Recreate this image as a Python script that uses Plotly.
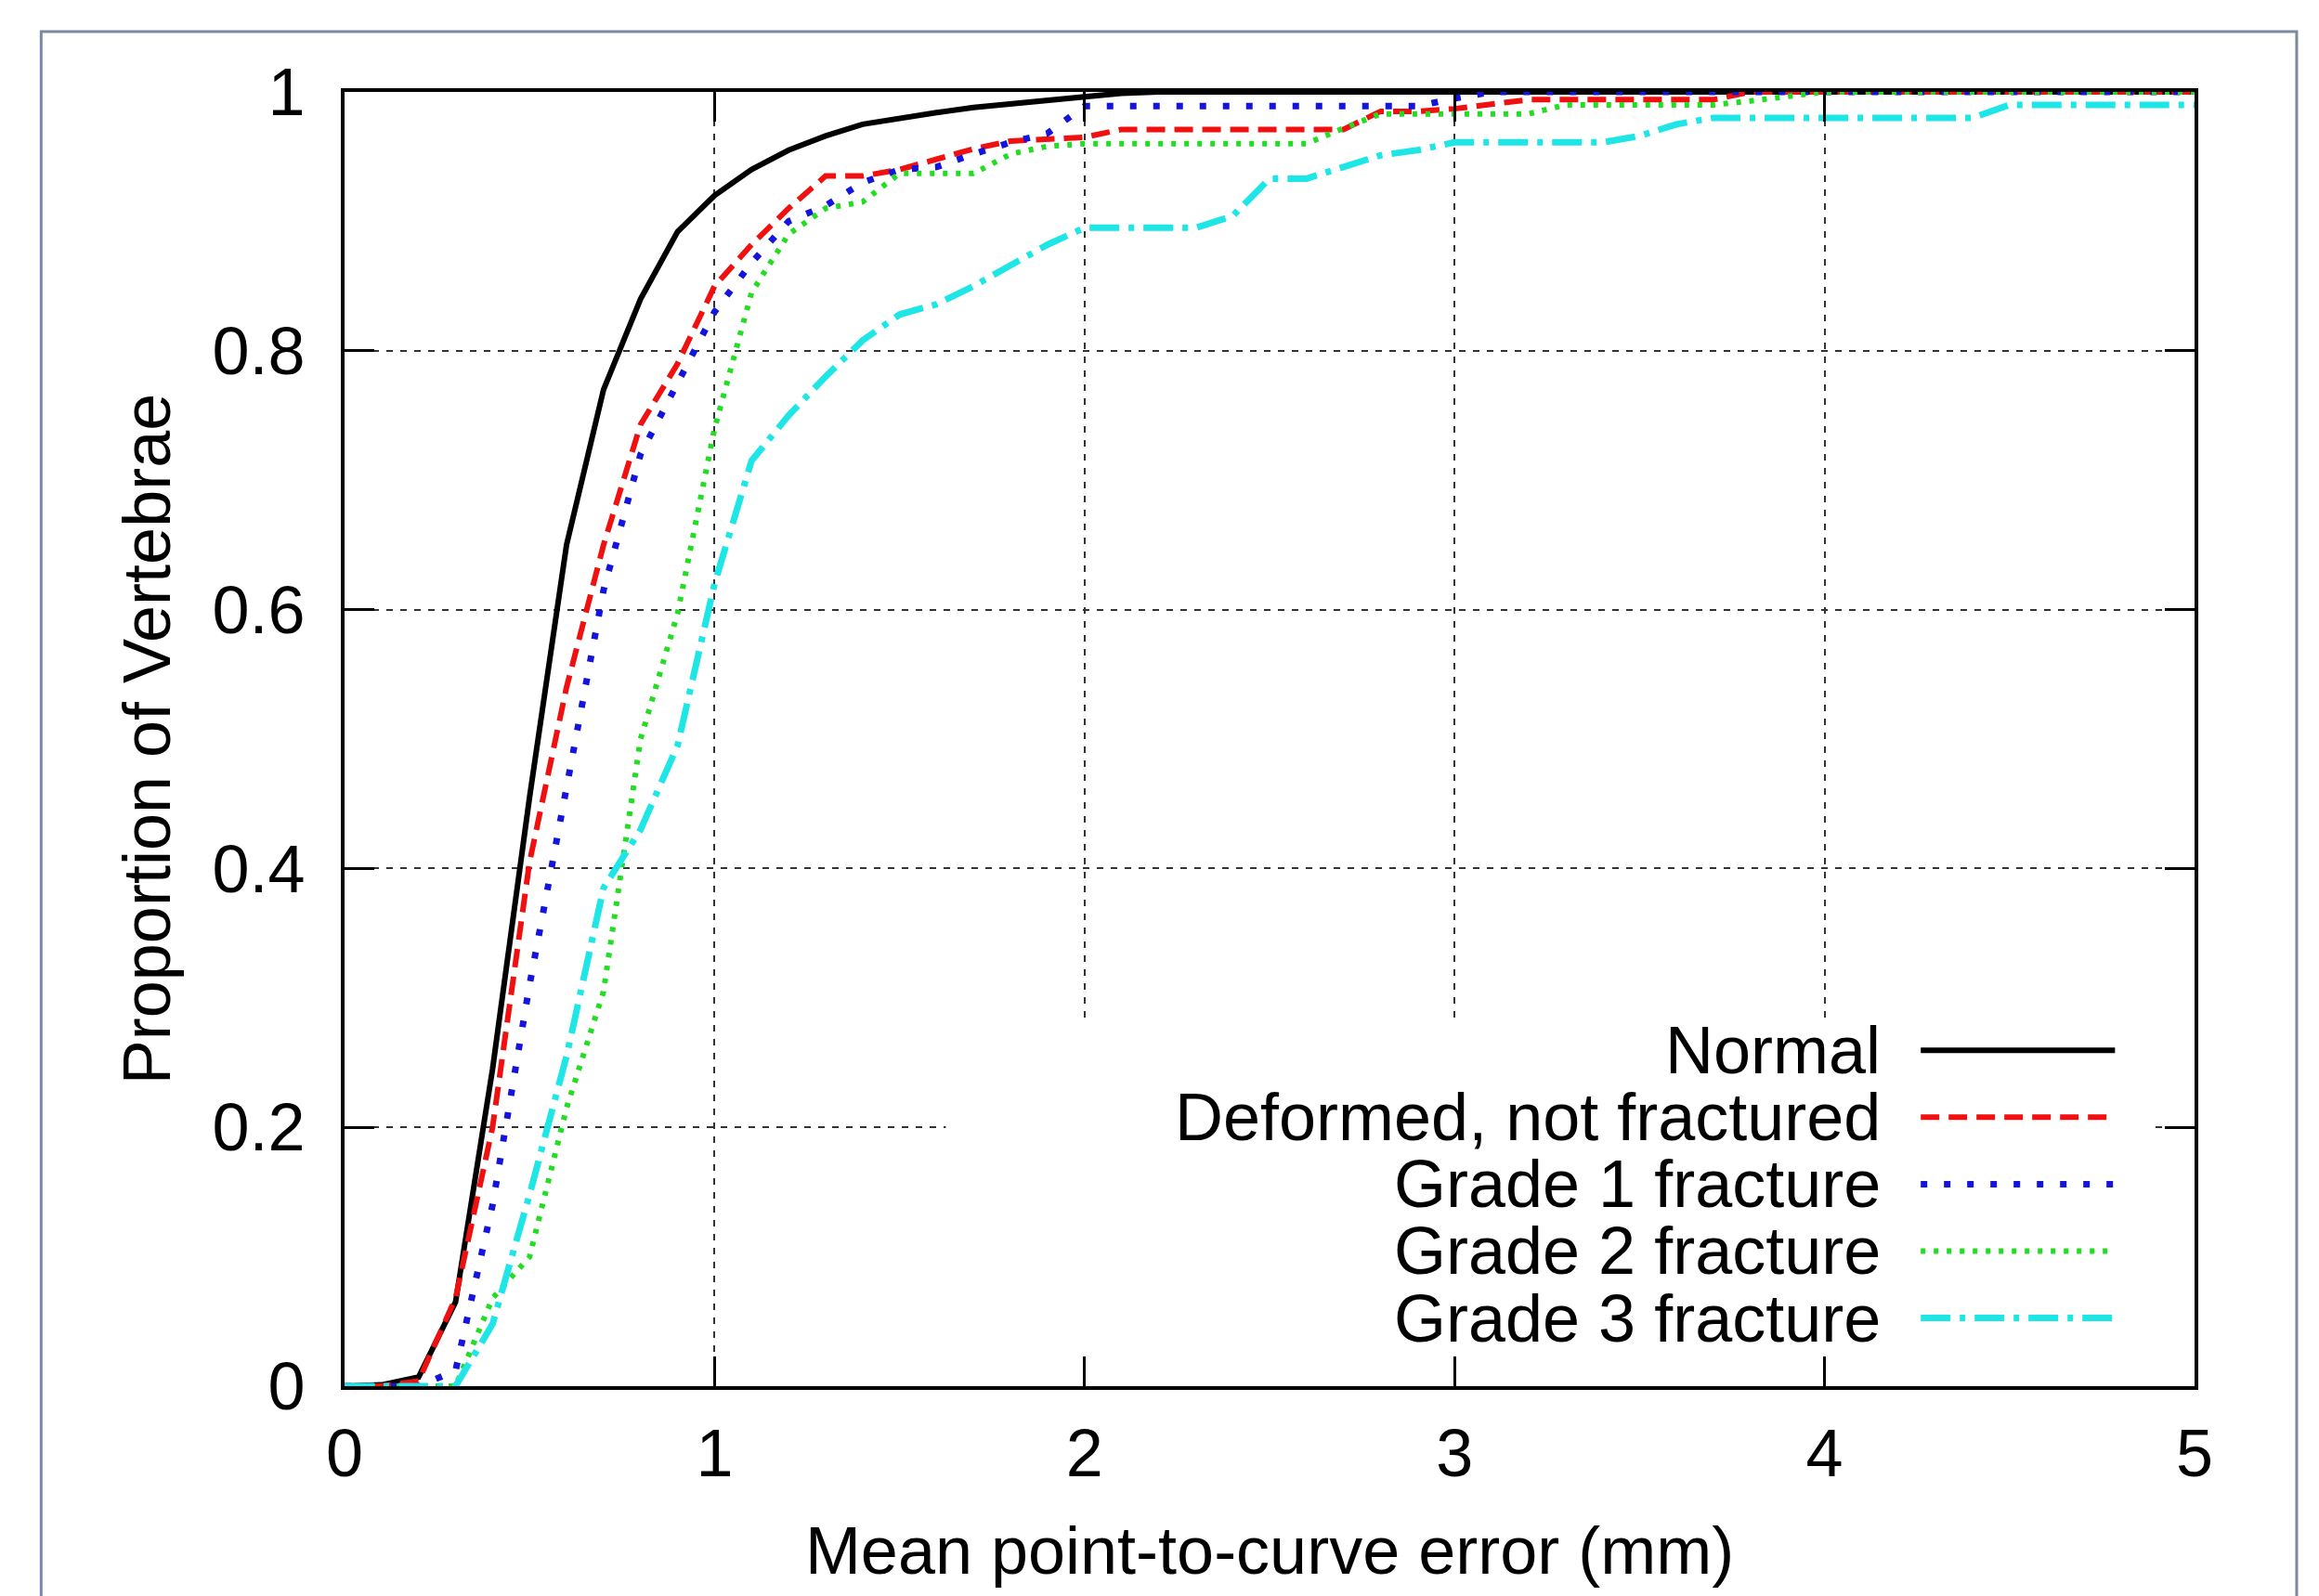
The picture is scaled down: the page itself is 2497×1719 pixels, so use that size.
# Cumulative distribution of mean point-to-curve error per vertebra class
import plotly.graph_objects as go

error_mm = [0.0, 0.1, 0.2, 0.3, 0.4, 0.5, 0.6, 0.7, 0.8, 0.9,
            1.0, 1.1, 1.2, 1.3, 1.4, 1.5, 1.6, 1.7, 1.8, 1.9,
            2.0, 2.1, 2.2, 2.3, 2.4, 2.5, 2.6, 2.7, 2.8, 2.9,
            3.0, 3.1, 3.2, 3.3, 3.4, 3.5, 3.6, 3.7, 3.8, 3.9,
            4.0, 4.1, 4.2, 4.3, 4.4, 4.5, 4.6, 4.7, 4.8, 4.9, 5.0]

normal = [0, 0.001, 0.007, 0.065, 0.245, 0.455, 0.65, 0.77, 0.84, 0.892,
          0.92, 0.94, 0.955, 0.966, 0.975, 0.98, 0.984, 0.988, 0.991, 0.994,
          0.997, 0.999, 1, 1, 1, 1, 1, 1, 1, 1,
          1, 1, 1, 1, 1, 1, 1, 1, 1, 1,
          1, 1, 1, 1, 1, 1, 1, 1, 1, 1, 1]

deformed = [0, 0, 0.004, 0.068, 0.2, 0.405, 0.54, 0.65, 0.743, 0.79,
            0.85, 0.882, 0.91, 0.935, 0.935, 0.94, 0.948, 0.956, 0.962, 0.963,
            0.965, 0.971, 0.971, 0.971, 0.971, 0.971, 0.971, 0.971, 0.985, 0.985,
            0.987, 0.99, 0.994, 0.994, 0.994, 0.994, 0.994, 0.994, 1, 1,
            1, 1, 1, 1, 1, 1, 1, 1, 1, 1, 1]

grade1 = [0, 0, 0, 0.012, 0.14, 0.31, 0.46, 0.615, 0.72, 0.775,
          0.83, 0.868, 0.9, 0.912, 0.93, 0.94, 0.942, 0.952, 0.961, 0.968,
          0.989, 0.989, 0.989, 0.989, 0.989, 0.989, 0.989, 0.989, 0.989, 0.989,
          0.995, 1, 1, 1, 1, 1, 1, 1, 1, 1,
          1, 1, 1, 1, 1, 1, 1, 1, 1, 1, 1]

grade2 = [0, 0, 0, 0, 0.068, 0.1, 0.215, 0.305, 0.5, 0.597,
          0.74, 0.845, 0.89, 0.91, 0.915, 0.937, 0.937, 0.937, 0.952, 0.958,
          0.96, 0.96, 0.96, 0.96, 0.96, 0.96, 0.96, 0.972, 0.983, 0.983,
          0.983, 0.983, 0.983, 0.99, 0.99, 0.99, 0.99, 0.99, 0.993, 0.996,
          1, 1, 1, 1, 1, 1, 1, 1, 1, 1, 1]

grade3 = [0, 0, 0, 0, 0.048, 0.148, 0.255, 0.385, 0.43, 0.495,
          0.62, 0.715, 0.75, 0.78, 0.808, 0.828, 0.836, 0.85, 0.866, 0.882,
          0.895, 0.895, 0.895, 0.895, 0.904, 0.933, 0.933, 0.942, 0.951, 0.955,
          0.961, 0.961, 0.961, 0.961, 0.961, 0.966, 0.975, 0.98, 0.98, 0.98,
          0.98, 0.98, 0.98, 0.98, 0.98, 0.99, 0.99, 0.99, 0.99, 0.99, 0.99]

series_names = ['Normal', 'Deformed, not fractured', 'Grade 1 fracture',
                'Grade 2 fracture', 'Grade 3 fracture']
series_values = [normal, deformed, grade1, grade2, grade3]

x_ticks = [0, 1, 2, 3, 4, 5]
x_tick_labels = ['0', '1', '2', '3', '4', '5']
y_ticks = [0, 0.2, 0.4, 0.6, 0.8, 1]
y_tick_labels = ['0', '0.2', '0.4', '0.6', '0.8', '1']

# Step 2: gnuplot-like line styles
styles = [
    dict(color='#000000', width=6, dash='solid'),
    dict(color='#f01010', width=6, dash='20px,10px'),
    dict(color='#1414dc', width=7, dash='7px,18px'),
    dict(color='#22dd22', width=6, dash='5px,9px'),
    dict(color='#1ee6e6', width=7, dash='32px,10px,6px,10px'),
]

FONT = 'Liberation Sans, Arial, sans-serif'

fig = go.Figure()
for name, vals, st in zip(series_names, series_values, styles):
    fig.add_trace(go.Scatter(x=error_mm, y=vals, mode='lines', name=name,
                             line=st, showlegend=False))

# Step 3: axes with inside ticks on all four sides and dotted grid
axis_common = dict(
    showline=True, linecolor='black', linewidth=4, mirror='ticks',
    ticks='inside', ticklen=32, tickwidth=3, tickcolor='black',
    showgrid=True, gridcolor='#333333', gridwidth=2, griddash='7px,8px',
    zeroline=False, automargin=False,
    tickfont=dict(size=72, color='black', family=FONT),
)
fig.update_xaxes(range=[0, 5], tickvals=x_ticks, ticktext=x_tick_labels,
                 ticklabelstandoff=7,
                 title=dict(text='Mean point-to-curve error (mm)', standoff=41,
                            font=dict(size=72, color='black', family=FONT)),
                 **axis_common)
fig.update_yaxes(range=[0, 1], tickvals=y_ticks, ticktext=y_tick_labels,
                 ticklabelstandoff=24,
                 title=dict(text='Proportion of Vertebrae', standoff=22,
                            font=dict(size=72, color='black', family=FONT)),
                 **axis_common)

# Step 4: key box drawn gnuplot style (text on the left, sample on the right)
shapes = [
    # white key background hiding the grid (kept above the bottom ticks)
    dict(type='rect', xref='paper', yref='paper', x0=0.325, x1=0.977,
         y0=0.025, y1=0.283, fillcolor='white', line=dict(width=0), layer='above'),
    # outer figure frame
    dict(type='rect', xref='paper', yref='paper', x0=-0.164, x1=1.0552,
         y0=-0.4, y1=1.0466, line=dict(color='#7b8aa0', width=3), layer='below'),
]
annotations = []
for i, (name, st) in enumerate(zip(series_names, styles)):
    row_y = 0.2595 - 0.0517 * i
    annotations.append(dict(x=0.8313, y=row_y, xref='paper', yref='paper',
                            text=name, showarrow=False, xanchor='right',
                            yanchor='middle',
                            font=dict(size=72, color='black', family=FONT)))
    shapes.append(dict(type='line', xref='paper', yref='paper', x0=0.852,
                       x1=0.957, y0=row_y, y1=row_y, layer='above',
                       line=dict(color=st['color'], width=st['width'],
                                 dash=st['dash'])))

# margins offset by the 8px page margin of the html body
fig.update_layout(
    width=2497, height=1719,
    margin=dict(l=363, r=142, t=91, b=234),
    paper_bgcolor='white', plot_bgcolor='white',
    font=dict(family=FONT, color='black'),
    shapes=shapes, annotations=annotations,
)

fig.write_html('out.html')
